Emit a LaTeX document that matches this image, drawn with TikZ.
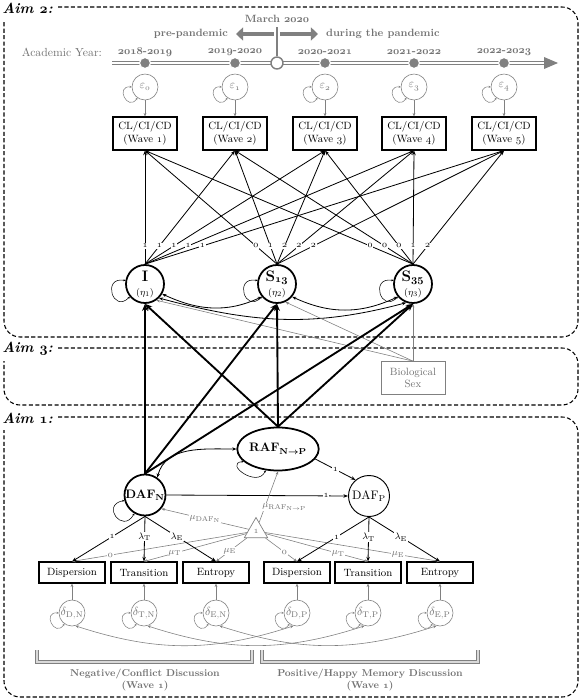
\documentclass[tikz,border=0pt]{standalone}
\usetikzlibrary{arrows.meta,shapes.geometric,positioning}
\newlength{\du}
\setlength{\du}{0.3mm}
\newcommand{\osn}[1]{$\mathnormal{#1}$}
\newcommand{\bosn}[1]{{\boldmath$\mathnormal{#1}$}}
\definecolor{dialinegray}{rgb}{0.50,0.50,0.50}
\definecolor{dialinetext}{rgb}{0.45,0.45,0.45}
\tikzset{
  aimbox/.style={line width=0.9pt,dash pattern=on 3.5pt off 2pt,rounded corners=16\du},
  aimlabel/.style={anchor=west,inner sep=1pt,font=\fontsize{12.5}{14}\selectfont\bfseries\itshape},
  wavebox/.style={draw,line width=0.9pt,minimum width=64\du,minimum height=33\du,inner sep=1pt,align=center,font=\fontsize{9}{10.5}\selectfont},
  indbox/.style={wavebox,minimum width=66\du,minimum height=21\du},
  sexbox/.style={wavebox,draw=dialinegray,text=dialinetext,line width=0.6pt,font=\fontsize{9}{9.5}\selectfont},
  latent/.style={circle,draw,line width=1.5pt,minimum size=38\du,inner sep=0pt,align=center},
  errc/.style={circle,draw=dialinegray,text=dialinetext,line width=0.5pt,minimum size=26\du,inner sep=0pt,font=\fontsize{10}{11}\selectfont},
  tdot/.style={circle,fill=dialinegray,draw=white,line width=1pt,minimum size=11\du,inner sep=0pt},
  graylab/.style={text=dialinetext,font=\fontsize{9}{10}\selectfont\bfseries},
  arrowtip/.style={-{Stealth[length=4pt,width=3pt]}},
  regline/.style={arrowtip,line width=0.7pt},
  bigreg/.style={-{Stealth[length=6pt,width=5pt]},line width=1.6pt},
  grayline/.style={-{Stealth[length=3pt,width=2.4pt]},draw=dialinegray,line width=0.5pt},
  covline/.style={{Stealth[length=3.5pt,width=2.8pt]}-{Stealth[length=3.5pt,width=2.8pt]},line width=0.7pt},
  varloop/.style={{Stealth[length=1.8pt,width=1.8pt]}-{Stealth[length=1.8pt,width=1.8pt]},line width=0.45pt},
  ldlab/.style={fill=white,inner sep=0.6pt,font=\fontsize{8.5}{9}\selectfont},
  mulab/.style={ldlab,text=dialinetext},
}
\begin{document}
\begin{tikzpicture}[x=\du,y=\du]
\useasboundingbox (0,0) rectangle (581,-699);
\draw[aimbox] (58,-7) -- (578,-7) -- (578,-337) -- (4,-337) -- (4,-20);
\node[aimlabel] (aim2) at (1,-8) {Aim \bosn{2}:};
\draw[aimbox] (58,-348) -- (578,-348) -- (578,-405) -- (4,-405) -- (4,-361);
\node[aimlabel] (aim3) at (1,-349) {Aim \bosn{3}:};
\draw[aimbox] (58,-417) -- (578,-417) -- (578,-697) -- (4,-697) -- (4,-430);
\node[aimlabel] (aim1) at (1,-418) {Aim \bosn{1}:};

\coordinate (tl0) at (112,-63);
\coordinate (tl1) at (546,-63);
\draw[dialinegray,line width=0.8pt,double=white,double distance=1.4pt] (tl0) -- (tl1);
\fill[dialinegray] (544,-57) -- (558,-63) -- (544,-69) -- cycle;
\node[text=dialinetext,font=\fontsize{10}{11}\selectfont,anchor=east] (acad) at (106,-52) {Academic Year:};
\foreach \i/\x/\ya/\yb in {1/145/2018/2019,2/235/2019/2020,3/325/2020/2021,4/414/2021/2022,5/504/2022/2023}{
  \pgfmathtruncatemacro{\j}{\i-1}
  \node[tdot] (t\i) at (\x,-63) {};
  \node[graylab] (yr\i) at (\x,-52) {\bosn{\ya}-\bosn{\yb}};
  \node[errc] (e\i) at (\x,-87) {$\varepsilon_{\mathnormal{\j}}$};
  \node[wavebox] (w\i) at (\x,-133.5) {CL/CI/CD\\(Wave \osn{\i})};
  \draw[grayline] (e\i) -- (w\i);
  \draw[varloop,draw=dialinegray] (e\i.180) .. controls +(175:17) and +(235:17) .. (e\i.235);
}
\node[circle,draw=dialinegray,fill=white,line width=1.2pt,minimum size=12\du,inner sep=0pt] (mar) at (277,-63) {};
\coordinate (mtop) at (277,-27);
\draw[dialinegray,line width=1.2pt] (mar) -- (mtop);
\node[graylab] (march) at (277,-19) {March \bosn{2020}};
\coordinate (pre0) at (274,-34);
\coordinate (pre1) at (236,-34);
\coordinate (dur0) at (280,-34);
\coordinate (dur1) at (318,-34);
\draw[dialinegray,line width=4pt,-{Triangle[length=6pt,width=11pt]}] (pre0) -- (pre1);
\draw[dialinegray,line width=4pt,-{Triangle[length=6pt,width=11pt]}] (dur0) -- (dur1);
\node[graylab,anchor=east] (prel) at (232,-34) {pre-pandemic};
\node[graylab,anchor=west] (durl) at (322,-34) {during the pandemic};

\node[latent] (I) at (145,-284) {{\fontsize{13}{13}\selectfont\bfseries I}\\{\fontsize{8}{9}\selectfont$(\eta_1)$}};
\node[latent] (S13) at (277,-284) {{\fontsize{13}{13}\selectfont\bfseries S\textsubscript{\bosn{13}}}\\{\fontsize{8}{9}\selectfont$(\eta_2)$}};
\node[latent] (S35) at (413,-284) {{\fontsize{13}{13}\selectfont\bfseries S\textsubscript{\bosn{35}}}\\{\fontsize{8}{9}\selectfont$(\eta_3)$}};
\foreach \i/\a/\b in {1/0/0,2/1/0,3/2/0,4/2/1,5/2/2}{
  \draw[regline] (I.north) -- node[ldlab,pos=0.16] {\osn{1}} (w\i.south);
  \draw[regline] (S13.north) -- node[ldlab,pos=0.16] {\osn{\a}} (w\i.south);
  \draw[regline] (S35.north) -- node[ldlab,pos=0.16] {\osn{\b}} (w\i.south);
}
\foreach \n in {I,S13,S35}
  \draw[varloop] (\n.170) .. controls +(170:24) and +(225:24) .. (\n.220);
\draw[covline] (I.-30) to[out=-25,in=-155] (S13.-140);
\draw[covline] (S13.-40) to[out=-25,in=-155] (S35.-140);
\draw[covline] (I.-45) to[out=-15,in=-165] (S35.-110);

\node[sexbox] (sex) at (413,-378) {Biological\\Sex};
\draw[grayline] (sex.north) -- (I.-55);
\draw[grayline] (sex.north) -- (S13.-65);
\draw[grayline] (sex.north) -- (S35.south);

\node[latent,ellipse,minimum width=58\du,minimum height=43\du] (RAF) at (278,-449) {\fontsize{10.5}{12}\selectfont\bfseries RAF\textsubscript{N{\boldmath$\to$}P}};
\node[latent,minimum size=41\du] (DAFN) at (145,-495) {\fontsize{10.5}{12}\selectfont\bfseries DAF\textsubscript{N}};
\node[latent,minimum size=41\du,line width=0.8pt] (DAFP) at (369,-496) {\fontsize{10.5}{12}\selectfont DAF\textsubscript{P}};
\foreach \n in {I,S13,S35}{
  \draw[bigreg] (DAFN.north) -- (\n.south);
  \draw[bigreg] (RAF.north) -- (\n.south);
}
\draw[regline] (DAFN.east) -- node[ldlab,pos=0.88] {\osn{1}} (DAFP.west);
\draw[regline] (RAF.-15) -- node[ldlab,pos=0.5] {\osn{1}} (DAFP.130);
\draw[covline] (DAFN.55) to[out=75,in=180] (RAF.west);
\draw[varloop] (DAFN.195) .. controls +(190:24) and +(240:24) .. (DAFN.240);
\draw[varloop] (RAF.200) .. controls +(185:20) and +(245:20) .. (RAF.240);

\node[indbox] (iDN) at (72,-572.5) {Dispersion};
\node[indbox] (iTN) at (144,-572.5) {Transition};
\node[indbox] (iEN) at (216,-572.5) {Entropy};
\node[indbox] (iDP) at (297,-572.5) {Dispersion};
\node[indbox] (iTP) at (368,-572.5) {Transition};
\node[indbox] (iEP) at (440,-572.5) {Entropy};

\node[regular polygon,regular polygon sides=3,draw=dialinegray,line width=0.6pt,minimum size=27\du,inner sep=0pt,text=dialinetext,font=\fontsize{8}{9}\selectfont] (one) at (256,-531) {\osn{1}};
\draw[grayline] (one) -- node[mulab,pos=0.78] {\osn{0}} (iDN.north);
\draw[grayline] (one) -- node[mulab,pos=0.7] {$\mu_{\mathrm{T}}$} (iTN.north);
\draw[grayline] (one) -- node[mulab,pos=0.55] {$\mu_{\mathrm{E}}$} (iEN.north);
\draw[grayline] (one) -- node[mulab,pos=0.6] {\osn{0}} (iDP.north);
\draw[grayline] (one) -- node[mulab,pos=0.71] {$\mu_{\mathrm{T}}$} (iTP.north);
\draw[grayline] (one) -- node[mulab,pos=0.76] {$\mu_{\mathrm{E}}$} (iEP.north);
\draw[grayline] (one) -- node[mulab,pos=0.5] {$\mu_{\mathrm{DAF}_{\mathrm{N}}}$} (DAFN.-40);
\draw[grayline] (one) -- node[mulab,pos=0.3,anchor=west,xshift=-3pt] {$\mu_{\mathrm{RAF}_{\mathrm{N}\to\mathrm{P}}}$} (RAF.south);

\draw[regline] (DAFN.south) -- node[ldlab,pos=0.45] {\osn{1}} (iDN.north);
\draw[regline] (DAFN.south) -- node[ldlab,pos=0.45] {$\lambda_{\mathrm{T}}$} (iTN.north);
\draw[regline] (DAFN.south) -- node[ldlab,pos=0.45] {$\lambda_{\mathrm{E}}$} (iEN.north);
\draw[regline] (DAFP.south) -- node[ldlab,pos=0.45] {\osn{1}} (iDP.north);
\draw[regline] (DAFP.south) -- node[ldlab,pos=0.45] {$\lambda_{\mathrm{T}}$} (iTP.north);
\draw[regline] (DAFP.south) -- node[ldlab,pos=0.45] {$\lambda_{\mathrm{E}}$} (iEP.north);

\foreach \k/\x/\a/\b in {DN/72/D/N,TN/144/T/N,EN/216/E/N,DP/297/D/P,TP/368/T/P,EP/440/E/P}{
  \node[errc] (d\k) at (\x,-613) {$\delta_{\mathrm{\a,\b}}$};
  \draw[grayline] (d\k) -- (i\k);
  \draw[varloop,draw=dialinegray] (d\k.180) .. controls +(175:17) and +(235:17) .. (d\k.235);
}
\foreach \a in {D,T,E}
  \draw[grayline,{Stealth[length=3pt,width=2.4pt]}-{Stealth[length=3pt,width=2.4pt]}] (d\a N.-75) to[out=-18,in=-162] (d\a P.-105);

\draw[dialinegray,line width=1.1pt,double=white!70!dialinegray,double distance=1.5pt] (37,-650) -- (37,-662) -- (252,-662) -- (252,-650);
\draw[dialinegray,line width=1.1pt,double=white!70!dialinegray,double distance=1.5pt] (262,-650) -- (262,-662) -- (478,-662) -- (478,-650);
\node[graylab,font=\fontsize{8.5}{11}\selectfont\bfseries,align=center] (negl) at (145,-680) {Negative/Conflict Discussion\\(Wave \bosn{1})};
\node[graylab,font=\fontsize{8.5}{11}\selectfont\bfseries,align=center] (posl) at (370,-680) {Positive/Happy Memory Discussion\\(Wave \bosn{1})};
\end{tikzpicture}
\end{document}
